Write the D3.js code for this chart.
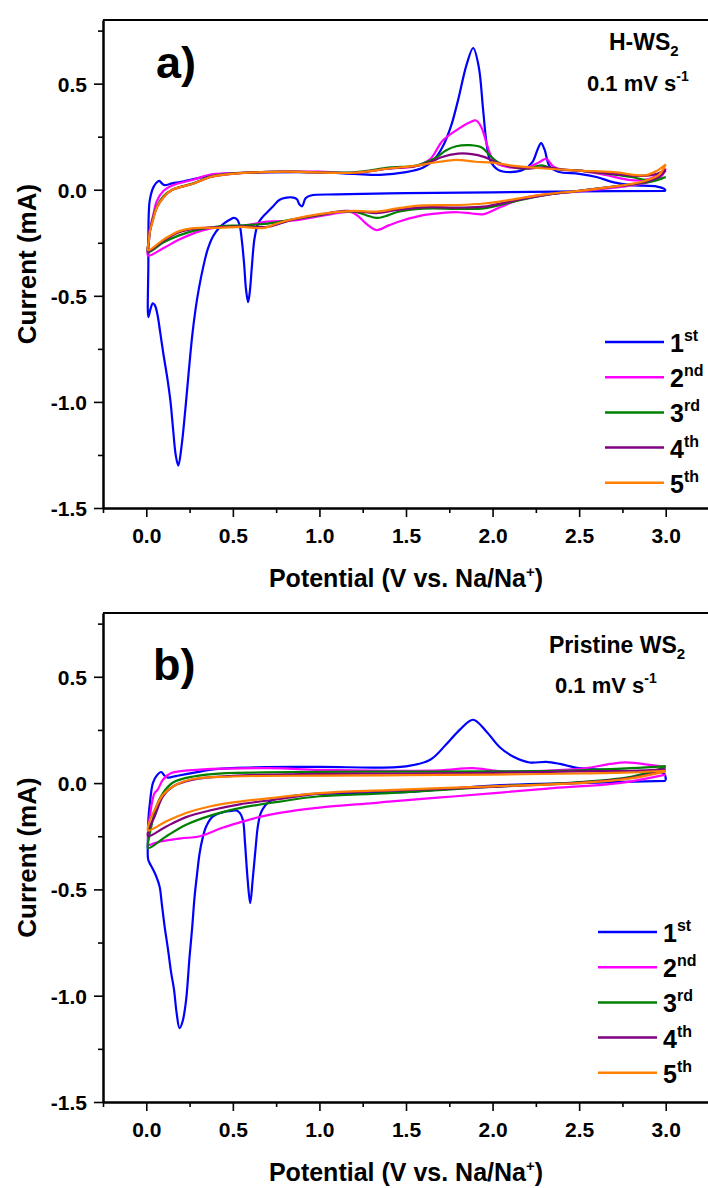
<!DOCTYPE html>
<html>
<head>
<meta charset="utf-8">
<script src="https://cdn.jsdelivr.net/npm/d3@7"></script>
<style>
  html, body { margin: 0; padding: 0; background: #fff; }
  svg { display: block; }
  text { font-family: "Liberation Sans", Arial, sans-serif; font-weight: bold; fill: #000; }
</style>
</head>
<body>
<svg id="chart" width="708" height="1188"></svg>
<script>
// ---------------- DATA ----------------
const xTickValues = [0.0, 0.5, 1.0, 1.5, 2.0, 2.5, 3.0];
const yTickValues = [-1.5, -1.0, -0.5, 0.0, 0.5];
const cycleLabels = ["1", "2", "3", "4", "5"];
const cycleSuffixes = ["st", "nd", "rd", "th", "th"];
const cycleColors = ["#0000ff", "#ff00ff", "#008000", "#800080", "#ff8000"];

// H-WS2 cycles : [potential V, current mA], cathodic sweep then anodic sweep
const hws1 = [[3.0,-0.005],[2.5,-0.008],[2.0,-0.012],[1.5,-0.016],[1.1,-0.022],[0.95,-0.027],[0.92,-0.04],[0.9,-0.078],[0.885,-0.07],[0.87,-0.045],[0.85,-0.037],[0.81,-0.037],[0.77,-0.047],[0.73,-0.08],[0.7,-0.105],[0.67,-0.13],[0.645,-0.16],[0.625,-0.23],[0.61,-0.36],[0.598,-0.48],[0.588,-0.53],[0.576,-0.47],[0.565,-0.35],[0.552,-0.24],[0.54,-0.17],[0.525,-0.14],[0.505,-0.133],[0.485,-0.14],[0.455,-0.155],[0.42,-0.18],[0.385,-0.22],[0.355,-0.28],[0.33,-0.36],[0.305,-0.46],[0.285,-0.56],[0.265,-0.69],[0.245,-0.86],[0.225,-1.04],[0.205,-1.2],[0.185,-1.3],[0.17,-1.25],[0.155,-1.13],[0.14,-1.0],[0.12,-0.88],[0.1,-0.78],[0.08,-0.67],[0.065,-0.59],[0.05,-0.545],[0.038,-0.535],[0.025,-0.56],[0.012,-0.6],
  [0.012,-0.35],[0.014,-0.12],[0.02,-0.05],[0.035,0.0],[0.055,0.03],[0.075,0.042],[0.09,0.03],[0.105,0.022],[0.15,0.03],[0.2,0.037],[0.3,0.055],[0.4,0.07],[0.5,0.078],[0.7,0.082],[1.0,0.082],[1.2,0.075],[1.35,0.07],[1.5,0.083],[1.6,0.105],[1.66,0.14],[1.71,0.2],[1.76,0.3],[1.8,0.42],[1.85,0.59],[1.888,0.668],[1.92,0.58],[1.945,0.38],[1.965,0.22],[1.985,0.14],[2.03,0.095],[2.1,0.083],[2.18,0.095],[2.23,0.13],[2.26,0.19],[2.28,0.22],[2.3,0.19],[2.33,0.11],[2.38,0.085],[2.5,0.075],[2.6,0.06],[2.7,0.035],[2.8,0.022],[2.95,0.015],[2.99,0.005],[3.0,-0.005]];
const hws2 = [[3.0,0.10],[2.97,0.06],[2.9,0.035],[2.8,0.02],[2.6,0.0],[2.4,-0.015],[2.2,-0.035],[2.05,-0.08],[1.95,-0.115],[1.88,-0.112],[1.8,-0.106],[1.7,-0.11],[1.6,-0.12],[1.48,-0.145],[1.4,-0.168],[1.33,-0.19],[1.27,-0.16],[1.22,-0.122],[1.18,-0.105],[1.1,-0.11],[1.0,-0.125],[0.85,-0.145],[0.7,-0.15],[0.55,-0.17],[0.42,-0.175],[0.31,-0.195],[0.19,-0.235],[0.1,-0.275],[0.01,-0.31],
  [0.015,-0.25],[0.02,-0.19],[0.04,-0.12],[0.06,-0.055],[0.1,-0.005],[0.15,0.02],[0.27,0.047],[0.37,0.072],[0.5,0.078],[0.8,0.085],[1.0,0.085],[1.2,0.08],[1.4,0.1],[1.55,0.11],[1.64,0.145],[1.71,0.23],[1.79,0.28],[1.87,0.318],[1.905,0.326],[1.935,0.295],[1.965,0.22],[1.99,0.16],[2.02,0.125],[2.1,0.105],[2.2,0.105],[2.27,0.13],[2.31,0.146],[2.35,0.11],[2.4,0.095],[2.5,0.09],[2.65,0.07],[2.8,0.045],[2.9,0.05],[2.96,0.075],[3.0,0.10]];
const hws3 = [[3.0,0.06],[2.95,0.045],[2.85,0.03],[2.7,0.015],[2.5,-0.005],[2.3,-0.025],[2.1,-0.06],[1.95,-0.088],[1.8,-0.09],[1.6,-0.089],[1.45,-0.105],[1.38,-0.125],[1.33,-0.133],[1.27,-0.12],[1.2,-0.103],[1.1,-0.105],[1.0,-0.12],[0.85,-0.14],[0.7,-0.16],[0.55,-0.168],[0.42,-0.172],[0.3,-0.188],[0.19,-0.215],[0.1,-0.248],[0.01,-0.295],
  [0.015,-0.24],[0.02,-0.2],[0.04,-0.13],[0.06,-0.08],[0.1,-0.03],[0.15,0.0],[0.27,0.03],[0.37,0.062],[0.5,0.077],[0.8,0.085],[1.2,0.082],[1.4,0.104],[1.56,0.114],[1.64,0.138],[1.68,0.155],[1.73,0.185],[1.79,0.205],[1.87,0.21],[1.94,0.198],[1.98,0.165],[2.03,0.13],[2.1,0.11],[2.2,0.1],[2.28,0.115],[2.33,0.105],[2.4,0.095],[2.5,0.09],[2.65,0.077],[2.8,0.06],[2.9,0.045],[2.96,0.05],[3.0,0.06]];
const hws4 = [[3.0,0.09],[2.96,0.06],[2.85,0.032],[2.7,0.015],[2.5,-0.005],[2.3,-0.025],[2.1,-0.055],[1.95,-0.08],[1.8,-0.084],[1.6,-0.083],[1.45,-0.095],[1.33,-0.11],[1.25,-0.105],[1.15,-0.1],[1.0,-0.118],[0.85,-0.14],[0.7,-0.175],[0.55,-0.172],[0.42,-0.176],[0.3,-0.182],[0.19,-0.2],[0.1,-0.24],[0.01,-0.29],
  [0.015,-0.24],[0.02,-0.2],[0.04,-0.135],[0.06,-0.085],[0.1,-0.035],[0.15,0.0],[0.27,0.028],[0.37,0.06],[0.5,0.075],[0.8,0.085],[1.2,0.08],[1.4,0.1],[1.56,0.112],[1.64,0.13],[1.7,0.152],[1.8,0.17],[1.88,0.168],[1.95,0.155],[2.02,0.13],[2.1,0.11],[2.2,0.1],[2.3,0.105],[2.4,0.095],[2.5,0.09],[2.7,0.075],[2.85,0.065],[2.95,0.075],[3.0,0.095]];
const hws5 = [[3.0,0.12],[2.96,0.07],[2.85,0.035],[2.7,0.015],[2.5,-0.005],[2.3,-0.022],[2.1,-0.048],[1.95,-0.065],[1.8,-0.072],[1.6,-0.074],[1.45,-0.088],[1.33,-0.103],[1.2,-0.1],[1.0,-0.115],[0.85,-0.138],[0.75,-0.16],[0.68,-0.18],[0.55,-0.175],[0.42,-0.18],[0.3,-0.18],[0.19,-0.195],[0.1,-0.235],[0.01,-0.285],
  [0.015,-0.24],[0.02,-0.2],[0.04,-0.14],[0.06,-0.085],[0.1,-0.035],[0.15,0.0],[0.27,0.028],[0.37,0.06],[0.5,0.075],[0.8,0.085],[1.2,0.08],[1.4,0.1],[1.56,0.114],[1.64,0.125],[1.79,0.141],[1.9,0.132],[2.0,0.128],[2.1,0.115],[2.3,0.1],[2.5,0.09],[2.7,0.083],[2.88,0.068],[2.95,0.09],[3.0,0.12]];

// Pristine WS2 cycles
const pws1 = [[3.0,0.01],[2.5,0.0],[2.0,-0.012],[1.55,-0.04],[1.4,-0.045],[1.2,-0.05],[1.0,-0.05],[0.9,-0.055],[0.77,-0.071],[0.71,-0.087],[0.665,-0.134],[0.645,-0.2],[0.632,-0.3],[0.615,-0.45],[0.6,-0.565],[0.585,-0.45],[0.57,-0.28],[0.558,-0.173],[0.54,-0.14],[0.52,-0.129],[0.48,-0.132],[0.44,-0.138],[0.385,-0.157],[0.346,-0.204],[0.325,-0.26],[0.308,-0.33],[0.293,-0.43],[0.279,-0.534],[0.265,-0.68],[0.25,-0.816],[0.23,-1.02],[0.21,-1.12],[0.192,-1.153],[0.175,-1.08],[0.16,-0.97],[0.144,-0.894],[0.125,-0.78],[0.106,-0.675],[0.09,-0.57],[0.077,-0.487],[0.058,-0.44],[0.035,-0.4],[0.019,-0.376],[0.01,-0.355],
  [0.01,-0.25],[0.013,-0.16],[0.02,-0.1],[0.038,0.0],[0.06,0.035],[0.087,0.052],[0.105,0.035],[0.125,0.026],[0.17,0.033],[0.23,0.042],[0.4,0.066],[0.69,0.075],[1.0,0.076],[1.5,0.079],[1.64,0.11],[1.73,0.18],[1.81,0.25],[1.887,0.298],[1.964,0.243],[2.04,0.17],[2.118,0.125],[2.214,0.097],[2.31,0.1],[2.39,0.09],[2.5,0.07],[2.64,0.063],[2.8,0.055],[2.99,0.045],[3.0,0.012]];
const pws2 = [[3.0,0.04],[2.73,0.0],[2.35,-0.024],[1.77,-0.063],[1.4,-0.087],[1.31,-0.094],[1.0,-0.115],[0.77,-0.14],[0.635,-0.163],[0.54,-0.185],[0.44,-0.21],[0.31,-0.25],[0.2,-0.26],[0.1,-0.272],[0.048,-0.282],[0.015,-0.29],
  [0.015,-0.2],[0.029,-0.11],[0.048,-0.047],[0.067,-0.03],[0.096,0.016],[0.144,0.047],[0.31,0.063],[0.7,0.07],[1.0,0.062],[1.4,0.058],[1.7,0.06],[1.887,0.07],[2.04,0.056],[2.3,0.058],[2.54,0.07],[2.68,0.09],[2.77,0.097],[2.93,0.083],[3.0,0.075]];
const pws3 = [[3.0,0.075],[2.8,0.03],[2.5,0.005],[2.0,-0.017],[1.4,-0.047],[1.0,-0.062],[0.77,-0.087],[0.54,-0.118],[0.366,-0.154],[0.23,-0.196],[0.116,-0.25],[0.01,-0.306],
  [0.015,-0.26],[0.029,-0.204],[0.058,-0.11],[0.096,-0.047],[0.154,0.003],[0.27,0.031],[0.46,0.047],[0.69,0.05],[1.0,0.053],[1.5,0.054],[2.0,0.055],[2.5,0.06],[2.8,0.07],[3.0,0.08]];
const pws4 = [[3.0,0.06],[2.8,0.025],[2.5,0.002],[2.0,-0.018],[1.4,-0.036],[1.0,-0.05],[0.77,-0.075],[0.54,-0.1],[0.366,-0.129],[0.23,-0.16],[0.116,-0.204],[0.01,-0.25],
  [0.015,-0.215],[0.048,-0.157],[0.096,-0.063],[0.154,-0.016],[0.27,0.016],[0.5,0.034],[0.886,0.042],[1.5,0.045],[2.0,0.048],[2.5,0.055],[2.8,0.058],[3.0,0.065]];
const pws5 = [[3.0,0.055],[2.8,0.022],[2.5,0.0],[2.0,-0.015],[1.4,-0.033],[1.0,-0.047],[0.77,-0.066],[0.54,-0.087],[0.366,-0.11],[0.23,-0.141],[0.116,-0.18],[0.01,-0.223],
  [0.015,-0.19],[0.048,-0.126],[0.096,-0.055],[0.154,-0.016],[0.27,0.019],[0.5,0.031],[1.0,0.035],[1.5,0.037],[2.0,0.04],[2.5,0.045],[2.8,0.05],[3.0,0.058]];

const panelTags = ["a)", "b)"];
const panelSamples = ["H-WS", "Pristine WS"];
const scanRateText = "0.1 mV s";
const xTitle = "Potential (V vs. Na/Na";
const yTitle = "Current (mA)";

// ---------------- DRAW ----------------
const svg = d3.select("#chart");
const X0 = 103, X1 = 709;
const panels = [
  { top: 20, bottom: 508, series: [hws1, hws2, hws3, hws4, hws5],
    tagPos: [156, 78], samplePos: [609, 50], ratePos: [587, 91], legend: { x: 605, y: 342 } },
  { top: 613, bottom: 1102, series: [pws1, pws2, pws3, pws4, pws5],
    tagPos: [153, 680], samplePos: [549, 653], ratePos: [555, 693], legend: { x: 598, y: 932 } }
];

panels.forEach((p, pi) => {
  const g = svg.append("g");
  const x = d3.scaleLinear().domain([-0.25, 3.25]).range([X0, X1]);
  const y = d3.scaleLinear().domain([-1.5, 0.8]).range([p.bottom, p.top]);

  // curves
  const line = d3.line().x(d => x(d[0])).y(d => y(d[1])).curve(d3.curveCatmullRom.alpha(0.5));
  p.series.forEach((s, i) => {
    g.append("path").datum(s).attr("d", line)
      .attr("fill", "none").attr("stroke", cycleColors[i])
      .attr("stroke-width", 2.2).attr("stroke-linejoin", "round");
  });

  // top frame line
  g.append("line").attr("x1", X0).attr("x2", X1).attr("y1", p.top).attr("y2", p.top)
    .attr("stroke", "#000").attr("stroke-width", 2);

  // x axis minor + major
  const xMinor = d3.range(-0.25, 3.26, 0.25).filter(v => Math.abs(v * 2 - Math.round(v * 2)) > 1e-6);
  const gxm = g.append("g").attr("transform", `translate(0,${p.bottom})`)
    .call(d3.axisBottom(x).tickValues(xMinor).tickSize(5).tickSizeOuter(0).tickFormat(""));
  const gx = g.append("g").attr("transform", `translate(0,${p.bottom})`)
    .call(d3.axisBottom(x).tickValues(xTickValues).tickSize(9).tickSizeOuter(0).tickFormat(d => d.toFixed(1)));
  [gxm, gx].forEach(a => { a.select(".domain").attr("stroke-width", 2); a.selectAll(".tick line").attr("stroke-width", 1.6); });
  gx.selectAll(".tick text").attr("y", 35).attr("dy", null)
    .style("font-size", "21px").style("font-family", '"Liberation Sans", Arial, sans-serif').style("font-weight", "bold");

  // y axis
  const yMinor = d3.range(-1.25, 0.8, 0.5);
  const gym = g.append("g").attr("transform", `translate(${X0},0)`)
    .call(d3.axisLeft(y).tickValues(yMinor).tickSize(5).tickSizeOuter(0).tickFormat(""));
  const gy = g.append("g").attr("transform", `translate(${X0},0)`)
    .call(d3.axisLeft(y).tickValues(yTickValues).tickSize(9).tickSizeOuter(0).tickFormat(d => d.toFixed(1)));
  [gym, gy].forEach(a => { a.select(".domain").attr("stroke-width", 2); a.selectAll(".tick line").attr("stroke-width", 1.6); });
  gy.selectAll(".tick text").attr("x", -16).attr("dy", "0.36em")
    .style("font-size", "21px").style("font-family", '"Liberation Sans", Arial, sans-serif').style("font-weight", "bold");

  // axis titles
  const xt = g.append("text").attr("x", 406).attr("y", p.bottom + 79).attr("text-anchor", "middle")
    .style("font-size", "25px");
  xt.append("tspan").text(xTitle);
  xt.append("tspan").text("+").attr("dy", -10).style("font-size", "15px");
  xt.append("tspan").text(")").attr("dy", 10);

  g.append("text").attr("transform", `translate(36,${(p.top + p.bottom) / 2}) rotate(-90)`)
    .attr("text-anchor", "middle").style("font-size", "26px").text(yTitle);

  // panel tag
  g.append("text").attr("x", p.tagPos[0]).attr("y", p.tagPos[1]).style("font-size", "45px").text(panelTags[pi]);

  // sample name with subscript 2
  const st = g.append("text").attr("x", p.samplePos[0]).attr("y", p.samplePos[1]).style("font-size", "23px");
  st.append("tspan").text(panelSamples[pi]);
  st.append("tspan").text("2").attr("dy", 6).style("font-size", "15px");

  // scan rate
  const rt = g.append("text").attr("x", p.ratePos[0]).attr("y", p.ratePos[1]).style("font-size", "22px");
  rt.append("tspan").text(scanRateText);
  rt.append("tspan").text("-1").attr("dy", -10).style("font-size", "14px");

  // legend
  cycleLabels.forEach((lab, i) => {
    const ly = p.legend.y + i * 35.2;
    g.append("line").attr("x1", p.legend.x).attr("x2", p.legend.x + 59)
      .attr("y1", ly).attr("y2", ly).attr("stroke", cycleColors[i]).attr("stroke-width", 2.5);
    const t = g.append("text").attr("x", p.legend.x + 65).attr("y", ly + 10).style("font-size", "25px");
    t.append("tspan").text(lab);
    t.append("tspan").text(cycleSuffixes[i]).attr("dy", -11).style("font-size", "16px");
  });
});
</script>
</body>
</html>
